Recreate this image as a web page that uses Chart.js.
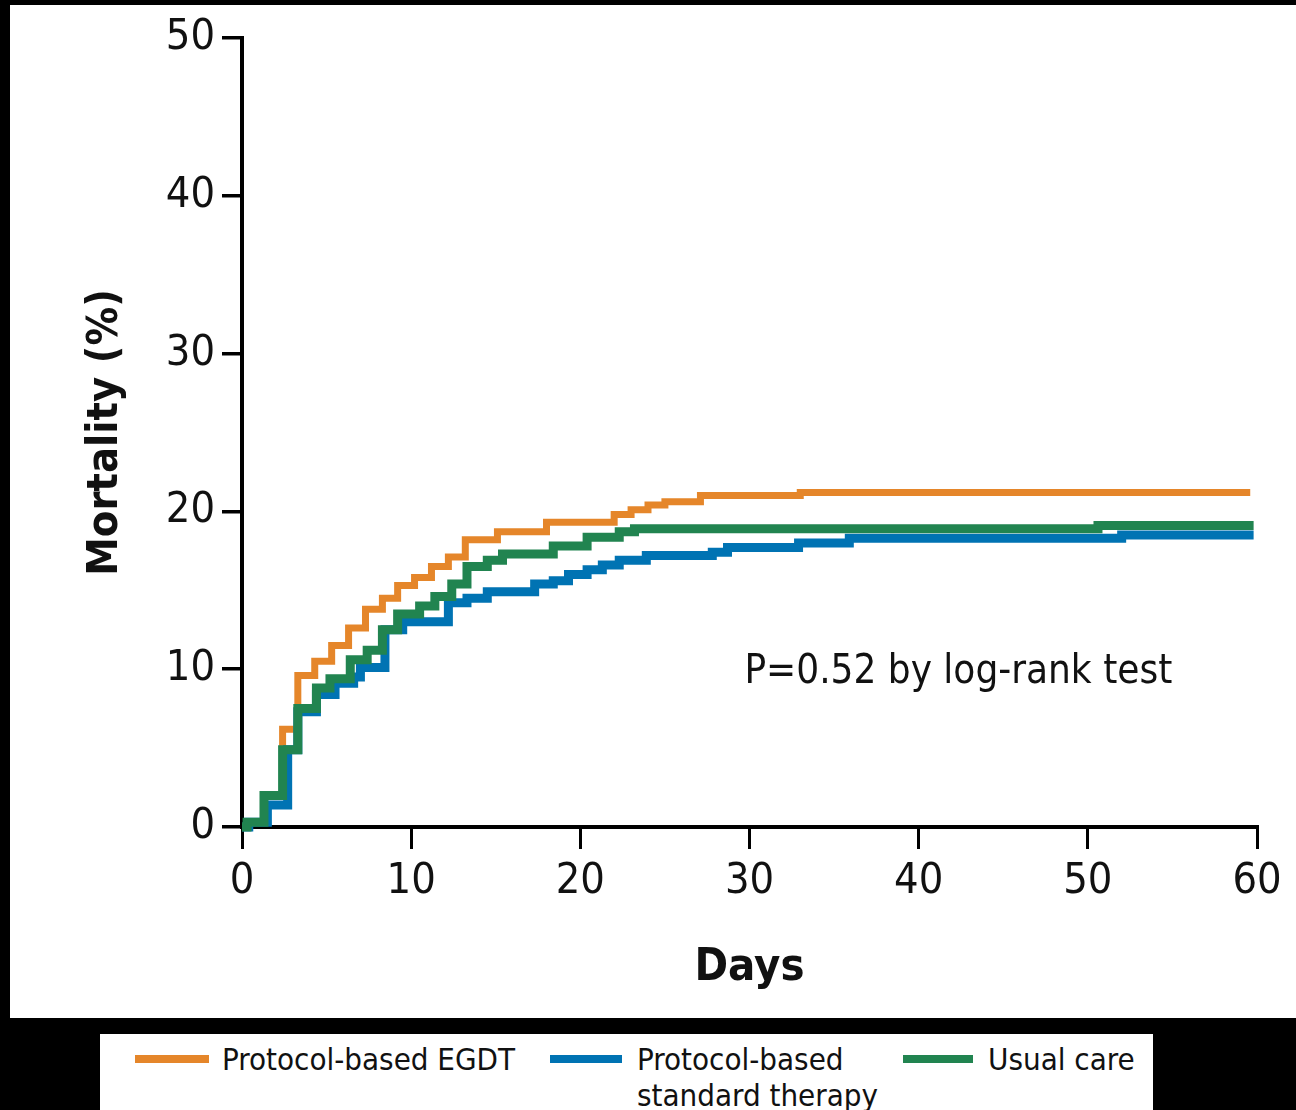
<!DOCTYPE html>
<html>
<head>
<meta charset="utf-8">
<script src="https://cdn.jsdelivr.net/npm/chart.js@4.4.1/dist/chart.umd.min.js"></script>
<style>
  body { margin: 0; background: #000; width: 1296px; height: 1110px; overflow: hidden; position: relative;
         font-family: 'Liberation Sans Narrow', 'DejaVu Sans Condensed', 'Liberation Sans', sans-serif; }
  #panel { position: absolute; left: 10px; top: 5px; width: 1286px; height: 1013px; background: #fff; }
  #legend { position: absolute; left: 100px; top: 1034px; width: 1053px; height: 76px; background: #fff; color: #111; font-size: 31px; }
  .sw { position: absolute; height: 8px; top: 21px; }
  .lb { position: absolute; line-height: 36px; top: 7px; white-space: nowrap; }
</style>
</head>
<body>
<div id="panel"><canvas id="km" width="1286" height="1013"></canvas></div>
<div id="legend">
  <div class="sw" style="left:35px;width:74px;background:#E5862A"></div>
  <div class="lb" style="left:122px">Protocol-based EGDT</div>
  <div class="sw" style="left:450px;width:72px;background:#0073B3"></div>
  <div class="lb" style="left:537px">Protocol-based<br>standard therapy</div>
  <div class="sw" style="left:803px;width:70px;background:#218450"></div>
  <div class="lb" style="left:888px">Usual care</div>
</div>
<script>
// Kaplan-Meier steps (day, cumulative mortality %)
const egdtDays = [0, 0.4, 1.3, 2.4, 3.3, 4.3, 5.3, 6.3, 7.3, 8.3, 9.2, 10.2, 11.2, 12.2, 13.2, 15.1, 18.0, 22.0, 23.0, 24.0, 25.0, 27.1, 33.0, 59.6];
const egdtMort = [0, 0.3, 2.0, 6.2, 9.6, 10.5, 11.5, 12.6, 13.8, 14.5, 15.3, 15.8, 16.5, 17.1, 18.2, 18.7, 19.3, 19.8, 20.1, 20.4, 20.6, 21.0, 21.2, 21.2];

const stdDays = [0, 0.4, 1.5, 2.7, 3.3, 4.4, 5.5, 6.6, 7.0, 8.45, 9.5, 12.2, 13.3, 14.5, 17.3, 18.4, 19.3, 20.4, 21.3, 22.3, 23.9, 27.8, 28.7, 32.9, 35.9, 52.0, 59.8];
const stdMort = [0, 0.3, 1.4, 4.9, 7.3, 8.4, 9.1, 9.5, 10.1, 12.5, 13.0, 14.2, 14.5, 14.9, 15.4, 15.6, 16.0, 16.3, 16.6, 16.9, 17.2, 17.4, 17.7, 18.0, 18.3, 18.5, 18.5];

const usualDays = [0, 0.3, 1.3, 2.4, 3.3, 4.4, 5.2, 6.4, 7.4, 8.3, 9.2, 10.5, 11.4, 12.4, 13.3, 14.5, 15.4, 18.4, 20.4, 22.3, 23.2, 50.6, 59.8];
const usualMort = [0, 0.3, 2.0, 4.9, 7.5, 8.8, 9.4, 10.6, 11.2, 12.5, 13.5, 14.0, 14.6, 15.4, 16.5, 16.9, 17.3, 17.8, 18.35, 18.7, 18.9, 19.1, 19.1];

const xTicks = [0, 10, 20, 30, 40, 50, 60];
const yTicks = [0, 10, 20, 30, 40, 50];

const toPts = (d, v) => d.map((x, i) => ({ x: x, y: v[i] }));
const ink = "#111";
const fam = "'Liberation Sans Narrow', 'DejaVu Sans Condensed', sans-serif";
const tickFont = { family: fam, size: 43 };

// P value note
const notePlugin = {
    id: "note",
    afterDraw(chart) {
        const ctx = chart.ctx, xs = chart.scales.x, ys = chart.scales.y;
        ctx.save();
        ctx.font = "40px " + fam;
        ctx.fillStyle = ink;
        ctx.textBaseline = "alphabetic";
        ctx.fillText("P=0.52 by log-rank test", xs.getPixelForValue(29.7), ys.getPixelForValue(9.1));
        ctx.restore();
    }
};

const line = (label, pts, color, w, order) => ({
    label, data: pts, borderColor: color, borderWidth: w, stepped: "before",
    pointRadius: 0, fill: false, order, clip: 12, borderCapStyle: "butt", borderJoinStyle: "miter"
});

new Chart(document.getElementById("km").getContext("2d"), {
    type: "line",
    data: {
        datasets: [
            line("Usual care", toPts(usualDays, usualMort), "#218450", 9, 0),
            line("Protocol-based standard therapy", toPts(stdDays, stdMort), "#0073B3", 9, 1),
            line("Protocol-based EGDT", toPts(egdtDays, egdtMort), "#E5862A", 7, 2)
        ]
    },
    options: {
        responsive: false,
        animation: false,
        layout: { padding: { top: 31, right: 39, bottom: 0, left: 0 } },
        plugins: { legend: { display: false }, tooltip: { enabled: false } },
        scales: {
            x: {
                type: "linear", min: 0, max: 60,
                afterFit: s => { s.height = 191; },
                afterBuildTicks: s => { s.ticks = xTicks.map(v => ({ value: v })); },
                border: { display: true, color: "#000", width: 4 },
                grid: { drawOnChartArea: false, drawTicks: true, tickLength: 22, lineWidth: 3, color: "#000" },
                ticks: { color: ink, font: tickFont, padding: 7, maxRotation: 0 },
                title: { display: true, text: "Days", color: ink, padding: { top: 0, bottom: 23 },
                         font: { family: fam, size: 45, weight: "bold" } }
            },
            y: {
                min: 0, max: 50,
                afterFit: s => { s.width = 232; },
                afterBuildTicks: s => { s.ticks = yTicks.map(v => ({ value: v })); },
                border: { display: true, color: "#000", width: 4 },
                grid: { drawOnChartArea: false, drawTicks: true, tickLength: 20, lineWidth: 3.5, color: "#000" },
                ticks: { color: ink, font: tickFont, padding: 7 },
                title: { display: true, text: "Mortality (%)", color: ink, padding: { top: 70, bottom: 0 },
                         font: { family: fam, size: 43, weight: "bold" } }
            }
        }
    },
    plugins: [notePlugin]
});
</script>
</body>
</html>
